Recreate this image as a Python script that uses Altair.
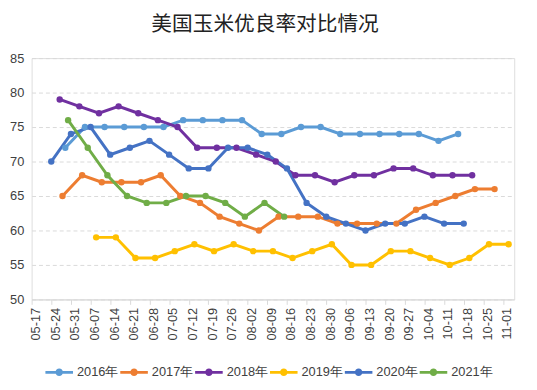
import altair as alt
import pandas as pd

# ---- data ----
tick_labels = ["05-17", "05-24", "05-31", "06-07", "06-14", "06-21", "06-28",
               "07-05", "07-12", "07-19", "07-26", "08-02", "08-09", "08-16",
               "08-23", "08-30", "09-06", "09-13", "09-20", "09-27", "10-04",
               "10-11", "10-18", "10-25", "11-01"]

years = ["2016年", "2017年", "2018年", "2019年", "2020年", "2021年"]
colors = ["#5B9BD5", "#ED7D31", "#7030A0", "#FFC000", "#4472C4", "#70AD47"]

# first weekly report date of each season (month-day), reports are weekly after it
start_dates = ["05-29", "05-28", "05-27", "06-09", "05-24", "05-30"]

v2016 = [72, 75, 75, 75, 75, 75, 76, 76, 76, 76, 74, 74, 75, 75, 74, 74, 74, 74, 74, 73, 74]
v2017 = [65, 68, 67, 67, 67, 68, 65, 64, 62, 61, 60, 62, 62, 62, 61, 61, 61, 61, 63, 64, 65, 66, 66]
v2018 = [79, 78, 77, 78, 77, 76, 75, 72, 72, 72, 71, 70, 68, 68, 67, 68, 68, 69, 69, 68, 68, 68]
v2019 = [59, 59, 56, 56, 57, 58, 57, 58, 57, 57, 56, 57, 58, 55, 55, 57, 57, 56, 55, 56, 58, 58]
v2020 = [70, 74, 75, 71, 72, 73, 71, 69, 69, 72, 72, 71, 69, 64, 62, 61, 60, 61, 61, 62, 61, 61]
v2021 = [76, 72, 68, 65, 64, 64, 65, 65, 64, 62, 64, 62]

series_values = [v2016, v2017, v2018, v2019, v2020, v2021]

# ---- build table ----
origin = pd.Timestamp("2021-05-17")
rows = []
for yr, start, vals in zip(years, start_dates, series_values):
    d0 = (pd.Timestamp("2021-" + start) - origin).days
    for i, v in enumerate(vals):
        rows.append({"year": yr, "day": d0 + 7 * i, "value": v})
df = pd.DataFrame(rows)

label_expr = "[" + ",".join("'%s'" % s for s in tick_labels) + "][round(datum.value/7)]"

x_enc = alt.X("day:Q",
              scale=alt.Scale(domain=[0, 172], nice=False, zero=False),
              axis=alt.Axis(values=[7 * i for i in range(len(tick_labels))],
                            labelExpr=label_expr, title=None, grid=False,
                            labelAngle=270, labelAlign="right", labelBaseline="middle",
                            labelOffset=4, labelPadding=3, tickSize=5,
                            tickColor="#d9d9d9", domainColor="#d9d9d9",
                            labelFontSize=13, labelColor="#404040",
                            labelFont="Liberation Sans"))
y_enc = alt.Y("value:Q",
              scale=alt.Scale(domain=[50, 85], nice=False, zero=False),
              axis=alt.Axis(values=[50, 55, 60, 65, 70, 75, 80, 85], title=None,
                            domain=False, ticks=False, labelPadding=8,
                            gridDash=[4, 3], gridColor="#d9d9d9",
                            labelFontSize=13, labelColor="#404040",
                            labelFont="Liberation Sans"))

color_scale = alt.Scale(domain=years, range=colors)

sym_path = ("M-1,-0.1L1,-0.1L1,0.1L-1,0.1Z"
            "M0.27,0A0.27,0.27,0,1,1,-0.27,0A0.27,0.27,0,1,1,0.27,0Z")

legend = alt.Legend(title=None, orient="none", direction="horizontal",
                    legendX=14, legendY=305, symbolType=sym_path, symbolSize=784,
                    symbolStrokeWidth=0, labelFontSize=13, labelColor="#404040",
                    labelFont="Liberation Sans", labelOffset=4, columnPadding=2)

base = alt.Chart(df).encode(x=x_enc, y=y_enc)

lines = base.mark_line(strokeWidth=3).encode(
    stroke=alt.Stroke("year:N", scale=color_scale, legend=legend),
    order="day:Q")
points = base.mark_point(filled=True, size=42, opacity=1).encode(
    fill=alt.Fill("year:N", scale=color_scale, legend=legend))

chart = alt.layer(lines, points).properties(
    width=490, height=245,
    autosize=alt.AutoSizeParams(type="none"),
    padding={"left": 24, "top": 48, "right": 15, "bottom": 82},
    title=alt.TitleParams("美国玉米优良率对比情况", fontSize=21,
                          font="Noto Sans CJK SC", fontWeight="normal",
                          color="#222222", anchor="middle", offset=18, dx=-8)
).configure_view(stroke=None).configure(background="white")

chart.save("out.html", embed_options={"renderer": "svg", "actions": False})
